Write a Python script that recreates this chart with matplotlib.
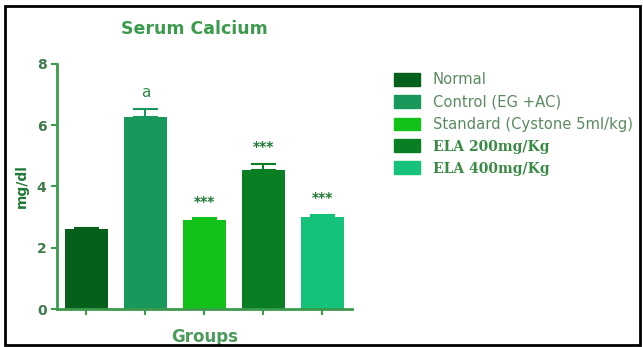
import matplotlib
matplotlib.use("Agg")
import matplotlib.pyplot as plt
from matplotlib.patches import Patch, Rectangle

groups = ["Normal", "Control (EG +AC)", "Standard (Cystone 5ml/kg)",
          "ELA 200mg/Kg", "ELA 400mg/Kg"]
means = [2.62, 6.28, 2.92, 4.55, 3.02]
errors = [0.03, 0.25, 0.04, 0.2, 0.06]
marks = ["", "a", "***", "***", "***"]
colors = ["#05601c", "#19985c", "#12c218", "#0a7e22", "#14c27a"]

fig = plt.figure(figsize=(6.43, 3.47), dpi=100)
ax = fig.add_axes([0.0886, 0.1095, 0.4584, 0.7061])

x = list(range(len(means)))
ax.bar(x, means, width=0.73, color=colors)
for xi, m, e, c, t in zip(x, means, errors, colors, marks):
    ax.errorbar(xi, m, yerr=[[0], [e]], fmt="none", ecolor=c,
                capsize=9, elinewidth=1.5, capthick=1.5)
    ax.text(xi, m + e + 0.3, t, ha="center", va="bottom",
            fontsize=11 if t == "a" else 10, fontweight="normal" if t == "a" else "bold",
            color="#2e8b4a" if t == "a" else "#1f7a35")

green = "#3c9a4c"
ax.set_xlim(-0.5, 4.5)
ax.set_ylim(0, 8)
ax.set_yticks([0, 2, 4, 6, 8])
ax.set_xticks(x)
ax.set_xticklabels([])
for s in ["top", "right"]:
    ax.spines[s].set_visible(False)
for s in ["left", "bottom"]:
    ax.spines[s].set_color(green)
    ax.spines[s].set_linewidth(2)
ax.tick_params(colors=green, width=1.5, length=4, labelsize=10)
for lab in ax.get_yticklabels():
    lab.set_fontweight("bold")
    lab.set_color("#3f7a4a")
ax.set_ylabel("mg/dl", fontsize=10, fontweight="bold", color="#1f7a35", labelpad=6)
ax.set_xlabel("Groups", fontsize=12, fontweight="bold", color="#4a9a5a", labelpad=6)
fig.text(0.303, 0.917, "Serum Calcium", ha="center", va="center",
         fontsize=12.5, fontweight="bold", color="#3c9a4c")

handles = [Patch(facecolor=c, edgecolor=c) for c in colors]
leg = fig.legend(handles, groups, loc="upper left", bbox_to_anchor=(0.592, 0.83),
                 frameon=False, fontsize=10.6, handlelength=1.75, handleheight=0.95,
                 handletextpad=0.9, labelspacing=0.5)
for i, t in enumerate(leg.get_texts()):
    if i < 3:
        t.set_color("#5a8a60")
    else:
        t.set_family("serif")
        t.set_fontweight("bold")
        t.set_fontsize(10)
        t.set_color("#3a8a45")

fig.patches.append(Rectangle((0.008, 0.006), 0.987, 0.978, transform=fig.transFigure,
                             fill=False, edgecolor="black", linewidth=2))
fig.savefig("out.png", dpi=100)
